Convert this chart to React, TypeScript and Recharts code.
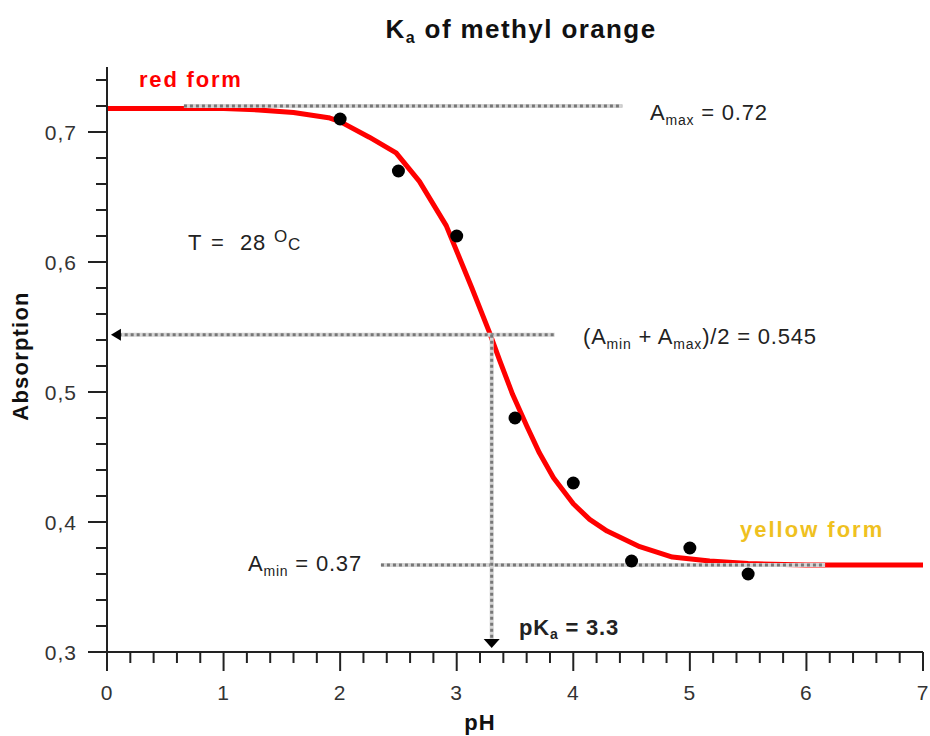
import { ComposedChart, Line, Scatter, XAxis, YAxis, ReferenceLine, ReferenceDot } from 'recharts';

// fitted curve
const curvePh = [0, 0.5, 1.0, 1.3, 1.6, 1.9, 2.0, 2.25, 2.48, 2.68, 2.91, 3.13, 3.28, 3.37, 3.48, 3.6, 3.71, 3.83, 4.0, 4.14, 4.29, 4.57, 4.85, 5.17, 5.5, 6.0, 7.0];
const curveAbs = [0.718, 0.718, 0.718, 0.717, 0.715, 0.711, 0.708, 0.696, 0.684, 0.662, 0.628, 0.58, 0.546, 0.524, 0.498, 0.474, 0.453, 0.434, 0.414, 0.402, 0.393, 0.381, 0.373, 0.37, 0.368, 0.367, 0.367];

// measured points
const measPh = [2, 2.5, 3, 3.5, 4, 4.5, 5, 5.5];
const measAbs = [0.71, 0.67, 0.62, 0.48, 0.43, 0.37, 0.38, 0.36];

const A_MAX = 0.72;
const A_HALF = 0.544;
const A_MIN = 0.367;
const PKA = 3.3;

const xTicks = Array.from({ length: 36 }, (_, i) => Number((i * 0.2).toFixed(1)));
const yTicks = Array.from({ length: 23 }, (_, i) => Number((0.3 + i * 0.02).toFixed(2)));

const curve = curvePh.map((ph, i) => ({ ph, a: curveAbs[i] }));
const points = measPh.map((ph, i) => ({ ph, a: measAbs[i] }));

const FONT = '"Liberation Sans", Arial, Helvetica, sans-serif';
const AXIS = '#222';

// grey band with darker dots on it
function dotted(key: string, seg: { x: number; y: number }[]) {
  return [
    <ReferenceLine key={key + 'b'} segment={seg} stroke="#d4d4d4" strokeWidth={4} />,
    <ReferenceLine key={key + 'd'} segment={seg} stroke="#777" strokeWidth={3} strokeDasharray="3 3" />,
  ];
}

function XTick({ x, y, payload }: any) {
  const v = payload.value;
  const major = Math.abs(v - Math.round(v)) < 1e-6;
  return (
    <g>
      <line x1={x} y1={y} x2={x} y2={y + (major ? 19 : 11)} stroke={AXIS} strokeWidth={2} />
      {major && (
        <text x={x} y={y + 48} textAnchor="middle" fontSize={21} letterSpacing={1} fill="#333" fontFamily={FONT}>
          {Math.round(v)}
        </text>
      )}
    </g>
  );
}

function YTick({ x, y, payload }: any) {
  const v = payload.value;
  const major = Math.abs(v * 10 - Math.round(v * 10)) < 1e-6;
  return (
    <g>
      <line x1={x - (major ? 19 : 11)} y1={y} x2={x} y2={y} stroke={AXIS} strokeWidth={2} />
      {major && (
        <text x={x - 30} y={y + 8} textAnchor="end" fontSize={21} letterSpacing={1} fill="#333" fontFamily={FONT}>
          {v.toFixed(1).replace('.', ',')}
        </text>
      )}
    </g>
  );
}

const leftArrow = ({ cx, cy }: any) => (
  <polygon points={`${cx},${cy} ${cx + 10},${cy - 6} ${cx + 10},${cy + 6}`} fill="#000" />
);
const downArrow = ({ cx, cy }: any) => (
  <polygon points={`${cx},${cy} ${cx - 8},${cy - 9} ${cx + 8},${cy - 9}`} fill="#000" />
);

export default function App() {
  const txt = { fontFamily: FONT, fontSize: 22, fill: '#222', letterSpacing: 0.8 };
  const sub = { fontSize: 14, fill: '#222' };
  return (
    <div style={{ position: 'absolute', left: 0, top: 0, width: 930, height: 736, background: '#fff' }}>
      <ComposedChart width={930} height={736} margin={{ top: 67, right: 7, bottom: 34, left: 7 }}>
        <XAxis
          type="number"
          dataKey="ph"
          domain={[0, 7]}
          ticks={xTicks}
          interval={0}
          tick={(p: any) => <XTick {...p} />}
          tickLine={false}
          tickSize={0}
          tickMargin={0}
          height={50}
          axisLine={{ stroke: AXIS, strokeWidth: 2 }}
        />
        <YAxis
          type="number"
          domain={[0.3, 0.75]}
          allowDataOverflow
          ticks={yTicks}
          interval={0}
          tick={(p: any) => <YTick {...p} />}
          tickLine={false}
          tickSize={0}
          tickMargin={0}
          width={100}
          axisLine={{ stroke: AXIS, strokeWidth: 2 }}
        />
        <Line
          data={curve}
          dataKey="a"
          type="linear"
          stroke="#ff0000"
          strokeWidth={5}
          strokeLinejoin="round"
          dot={false}
          activeDot={false}
          isAnimationActive={false}
        />
        {dotted('max', [{ x: 0.66, y: A_MAX }, { x: 4.42, y: A_MAX }])}
        {dotted('half', [{ x: 0.1, y: A_HALF }, { x: 3.84, y: A_HALF }])}
        {dotted('min', [{ x: 2.35, y: A_MIN }, { x: 6.16, y: A_MIN }])}
        {dotted('pka', [{ x: PKA, y: A_HALF }, { x: PKA, y: 0.31 }])}
        <ReferenceDot x={0.034} y={A_HALF} shape={leftArrow} />
        <ReferenceDot x={PKA} y={0.303} shape={downArrow} />
        <Scatter
          data={points}
          dataKey="a"
          isAnimationActive={false}
          shape={(p: any) => <circle cx={p.cx} cy={p.cy} r={6.5} fill="#000" />}
        />
      </ComposedChart>
      <svg width={930} height={736} style={{ position: 'absolute', left: 0, top: 0, pointerEvents: 'none' }}>
        <text x={521} y={38} textAnchor="middle" fontFamily={FONT} fontWeight="bold" fontSize={26} letterSpacing={1.4} fill="#111">
          K<tspan fontSize={16} dy={5}>a</tspan>
          <tspan dy={-5}> of methyl orange</tspan>
        </text>
        <text
          x={28}
          y={356}
          transform="rotate(-90 28 356)"
          textAnchor="middle"
          fontFamily={FONT}
          fontWeight="bold"
          fontSize={22}
          letterSpacing={1.2}
          fill="#111"
        >
          Absorption
        </text>
        <text x={480} y={730} textAnchor="middle" fontFamily={FONT} fontWeight="bold" fontSize={22} letterSpacing={1} fill="#111">
          pH
        </text>
        <text x={139} y={87} fontFamily={FONT} fontWeight="bold" fontSize={22} letterSpacing={1.8} fill="#ff0000">
          red form
        </text>
        <text x={740} y={537} fontFamily={FONT} fontWeight="bold" fontSize={22} letterSpacing={2} fill="#efc11f">
          yellow form
        </text>
        <text x={650} y={120} {...txt}>
          A<tspan {...sub} dy={5}>max</tspan>
          <tspan dy={-5}> = 0.72</tspan>
        </text>
        <text y={250} {...txt}>
          <tspan x={188}>T</tspan>
          <tspan x={211}>=</tspan>
          <tspan x={240}>28</tspan>
          <tspan x={274} fontSize={17} dy={-8}>O</tspan>
          <tspan x={288} fontSize={17} dy={8}>C</tspan>
        </text>
        <text x={583} y={344} {...txt}>
          (A<tspan {...sub} dy={5}>min</tspan>
          <tspan dy={-5}> + A</tspan>
          <tspan {...sub} dy={5}>max</tspan>
          <tspan dy={-5}>)/2 = 0.545</tspan>
        </text>
        <text x={248} y={571} {...txt}>
          A<tspan {...sub} dy={5}>min</tspan>
          <tspan dy={-5}> = 0.37</tspan>
        </text>
        <text x={519} y={635} fontFamily={FONT} fontWeight="bold" fontSize={22} letterSpacing={0.8} fill="#222">
          pK<tspan fontSize={14} dy={4}>a</tspan>
          <tspan dy={-4}> = 3.3</tspan>
        </text>
      </svg>
    </div>
  );
}
